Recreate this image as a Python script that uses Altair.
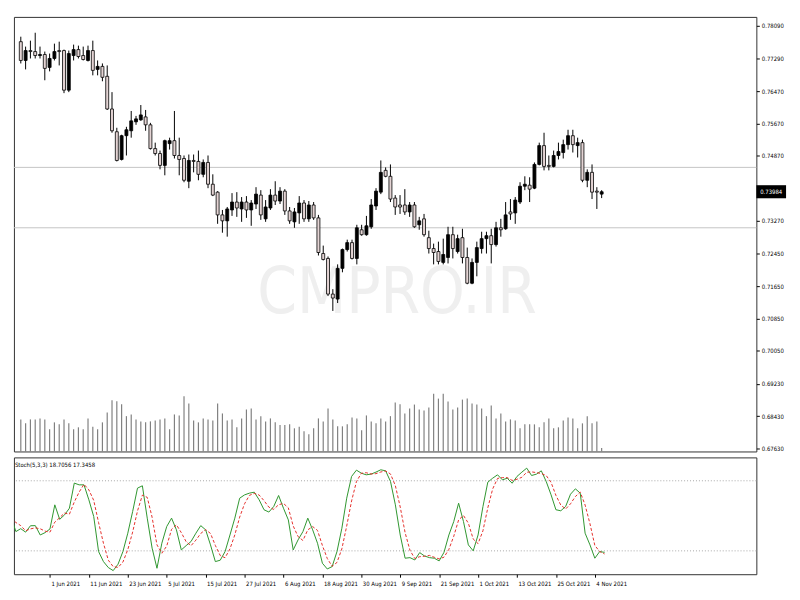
import json
import altair as alt
import pandas as pd

# ---------------- data ----------------
# daily candles, bar index 1..122 (weekdays, 21 May 2021 .. 8 Nov 2021)
opens = [0.77698, 0.77233, 0.77478, 0.77453, 0.77355, 0.77380, 0.77061, 0.77282, 0.77478, 0.77478,
         0.76498, 0.77355, 0.77502, 0.77355, 0.77233, 0.77478, 0.77012, 0.77086, 0.76841, 0.76032,
         0.75469, 0.74783, 0.75371, 0.75493, 0.75714, 0.75763, 0.75836, 0.75640, 0.75052, 0.74930,
         0.74636, 0.75175, 0.75248, 0.74881, 0.74807, 0.74244, 0.74758, 0.74734, 0.74415, 0.74709,
         0.74170, 0.73974, 0.73411, 0.73264, 0.73533, 0.73729, 0.73558, 0.73729, 0.73533, 0.73680,
         0.73901, 0.73313, 0.73582, 0.73901, 0.73754, 0.73999, 0.73509, 0.73239, 0.73460, 0.73705,
         0.73313, 0.73656, 0.73337, 0.72455, 0.72333, 0.71451, 0.71328, 0.72088, 0.72553, 0.72725,
         0.72333, 0.73043, 0.72921, 0.73117, 0.73631, 0.73974, 0.74513, 0.74366, 0.73827, 0.73656,
         0.73656, 0.73484, 0.73656, 0.73166, 0.73313, 0.72847, 0.72578, 0.72504, 0.72235, 0.72357,
         0.72921, 0.72504, 0.72847, 0.72357, 0.71720, 0.72235, 0.72578, 0.72823, 0.72896, 0.72676,
         0.73092, 0.73068, 0.73484, 0.73460, 0.73729, 0.74121, 0.74146, 0.74072, 0.74660, 0.75126,
         0.74636, 0.74611, 0.74881, 0.74954, 0.75150, 0.75371, 0.75126, 0.75199, 0.74268, 0.74464,
         0.73999, 0.73925]
highs = [0.77821, 0.77576, 0.77723, 0.77919, 0.77576, 0.77453, 0.77404, 0.77649, 0.77698, 0.77502,
         0.77478, 0.77625, 0.77600, 0.77576, 0.77600, 0.77723, 0.77233, 0.77159, 0.77110, 0.76449,
         0.75567, 0.75395, 0.75591, 0.75983, 0.75861, 0.76130, 0.76008, 0.75689, 0.75199, 0.75003,
         0.75273, 0.75322, 0.75983, 0.75322, 0.74881, 0.74905, 0.74905, 0.75003, 0.74783, 0.74881,
         0.74415, 0.73999, 0.73533, 0.73607, 0.73950, 0.73974, 0.73852, 0.73876, 0.73778, 0.74097,
         0.74023, 0.73778, 0.74048, 0.74244, 0.74097, 0.74048, 0.73607, 0.73582, 0.73876, 0.73778,
         0.73754, 0.73729, 0.73411, 0.72651, 0.72382, 0.71573, 0.72186, 0.72578, 0.72798, 0.72798,
         0.73166, 0.73166, 0.73386, 0.73803, 0.74072, 0.74758, 0.74587, 0.74660, 0.73901, 0.73901,
         0.74048, 0.73729, 0.73729, 0.73362, 0.73435, 0.73019, 0.72700, 0.72749, 0.72823, 0.73117,
         0.73117, 0.72921, 0.73068, 0.72602, 0.72333, 0.72749, 0.72994, 0.72994, 0.73068, 0.73239,
         0.73313, 0.73729, 0.73803, 0.73852, 0.74219, 0.74366, 0.74342, 0.74709, 0.75199, 0.75444,
         0.74881, 0.75003, 0.75199, 0.75273, 0.75518, 0.75518, 0.75322, 0.75273, 0.74538, 0.74660,
         0.74097, 0.74023]
lows = [0.77159, 0.77012, 0.77282, 0.77282, 0.77282, 0.76743, 0.76963, 0.77233, 0.77110, 0.76424,
        0.76449, 0.77233, 0.77282, 0.77233, 0.77208, 0.76865, 0.76865, 0.76718, 0.76008, 0.75444,
        0.74734, 0.74758, 0.74881, 0.75322, 0.75640, 0.75738, 0.75493, 0.75028, 0.74881, 0.74538,
        0.74391, 0.75028, 0.74807, 0.74391, 0.74219, 0.74072, 0.74464, 0.74268, 0.74342, 0.74072,
        0.73876, 0.73190, 0.72970, 0.72872, 0.73386, 0.73362, 0.73239, 0.73337, 0.73141, 0.73558,
        0.73288, 0.73239, 0.73533, 0.73656, 0.73680, 0.73411, 0.73190, 0.73092, 0.73190, 0.73239,
        0.73239, 0.73288, 0.72406, 0.72284, 0.71402, 0.71034, 0.71230, 0.71990, 0.72504, 0.72308,
        0.72186, 0.72896, 0.72896, 0.73068, 0.73533, 0.73925, 0.74342, 0.73729, 0.73411, 0.73435,
        0.73411, 0.73362, 0.73092, 0.73043, 0.72872, 0.72455, 0.72186, 0.72186, 0.72186, 0.72210,
        0.72333, 0.72455, 0.72210, 0.71695, 0.71695, 0.71891, 0.72455, 0.72455, 0.72210, 0.72627,
        0.72872, 0.73043, 0.73288, 0.73190, 0.73680, 0.74023, 0.73729, 0.74048, 0.74636, 0.74513,
        0.74513, 0.74587, 0.74783, 0.74807, 0.75028, 0.74955, 0.74832, 0.74219, 0.74097, 0.73803,
        0.73558, 0.73827]
closes = [0.77233, 0.77478, 0.77453, 0.77355, 0.77380, 0.77037, 0.77282, 0.77453, 0.77453, 0.76498,
          0.77404, 0.77502, 0.77331, 0.77257, 0.77478, 0.76988, 0.77086, 0.76816, 0.76032, 0.75493,
          0.74758, 0.75371, 0.75518, 0.75738, 0.75787, 0.75885, 0.75640, 0.75052, 0.74930, 0.74636,
          0.75248, 0.75248, 0.74881, 0.74783, 0.74268, 0.74758, 0.74734, 0.74415, 0.74709, 0.74170,
          0.73901, 0.73411, 0.73264, 0.73558, 0.73729, 0.73582, 0.73729, 0.73533, 0.73705, 0.73925,
          0.73411, 0.73607, 0.73901, 0.73754, 0.73999, 0.73509, 0.73264, 0.73484, 0.73705, 0.73313,
          0.73656, 0.73337, 0.72480, 0.72308, 0.71451, 0.71353, 0.72088, 0.72553, 0.72725, 0.72333,
          0.73092, 0.72921, 0.73141, 0.73656, 0.73999, 0.74464, 0.74366, 0.73803, 0.73607, 0.73607,
          0.73484, 0.73656, 0.73117, 0.73264, 0.72921, 0.72578, 0.72480, 0.72259, 0.72431, 0.72921,
          0.72578, 0.72823, 0.72357, 0.71720, 0.72235, 0.72602, 0.72823, 0.72896, 0.72676, 0.73092,
          0.73043, 0.73411, 0.73435, 0.73778, 0.74121, 0.74170, 0.74048, 0.74660, 0.75126, 0.74611,
          0.74611, 0.74881, 0.74979, 0.75150, 0.75371, 0.75150, 0.75199, 0.74268, 0.74464, 0.73974,
          0.73974, 0.73984]
tick_volumes = [32400, 28400, 32400, 32400, 33400, 32400, 22400, 29400, 27400, 32400,
                28400, 22400, 24400, 22400, 33400, 25000, 22400, 29400, 39400, 51700,
                50700, 47700, 35700, 37400, 32400, 30400, 29400, 30400, 31400, 32400,
                33400, 22400, 37400, 36400, 55700, 48400, 31400, 29400, 33400, 32400,
                31400, 48400, 38400, 31400, 32400, 24400, 33400, 42400, 43400, 32400,
                35700, 30400, 33400, 29400, 26700, 26700, 27400, 23400, 25000, 20400,
                17400, 23400, 33400, 30400, 43400, 32400, 25400, 25400, 27400, 34400,
                33400, 21400, 36400, 30400, 28400, 33400, 30400, 35700, 49400, 47700,
                38400, 43400, 47400, 42400, 41400, 44400, 58400, 53400, 58400, 50400,
                42400, 44400, 52400, 53400, 48400, 47400, 43400, 35700, 46400, 33400,
                38400, 30400, 32400, 31400, 23400, 27400, 27400, 27400, 24400, 29400,
                33400, 23400, 24400, 31400, 34400, 33400, 23400, 28400, 35700, 28400,
                30400, 3400]

# Stochastic(5,3,3), bar index 0..122
stoch_k = [49.4, 36.5, 39.0, 36.0, 41.5, 41.6, 33.6, 35.6, 38.7, 59.4,
           47.0, 50.8, 56.5, 78.0, 76.5, 76.5, 63.7, 49.4, 19.4, 10.8,
           5.7, 3.1, 8.6, 19.4, 35.1, 53.7, 73.7, 75.7, 48.0, 22.3,
           5.1, 26.5, 40.8, 48.0, 38.0, 20.8, 24.5, 28.0, 35.1, 41.6,
           38.0, 25.1, 10.8, 12.0, 19.4, 33.6, 48.0, 65.1, 67.9, 69.4,
           70.2, 63.7, 55.2, 53.2, 58.0, 67.4, 56.5, 46.5, 20.8, 29.4,
           36.5, 48.0, 38.0, 26.5, 9.4, 4.5, 6.5, 19.4, 39.3, 65.1,
           83.7, 89.1, 86.5, 85.1, 85.7, 87.4, 89.4, 88.5, 79.4, 59.4,
           33.6, 13.7, 14.2, 12.2, 18.5, 15.6, 14.2, 13.7, 11.4, 18.8,
           33.6, 45.1, 60.8, 45.1, 25.1, 20.0, 33.6, 57.9, 78.8, 82.2,
           85.1, 80.8, 82.2, 77.9, 83.7, 87.4, 90.8, 84.5, 85.7, 88.5,
           79.4, 68.0, 55.2, 54.3, 58.0, 68.5, 73.1, 69.4, 35.1, 25.1,
           13.7, 19.4, 18.7056]
stoch_d = [48.0, 44.3, 41.6, 37.2, 38.8, 39.7, 38.9, 36.9, 36.0, 44.6,
           48.4, 52.4, 51.4, 61.8, 70.3, 77.0, 72.2, 63.2, 44.2, 26.5,
           12.0, 6.5, 5.8, 10.4, 21.0, 36.1, 54.2, 67.7, 65.8, 48.7,
           25.1, 18.0, 24.1, 38.4, 42.3, 35.6, 27.8, 24.4, 29.2, 34.9,
           38.2, 34.9, 24.6, 16.0, 14.1, 21.7, 33.7, 48.9, 60.3, 67.5,
           69.2, 67.8, 63.0, 57.4, 55.5, 59.5, 60.6, 56.8, 41.3, 32.2,
           28.9, 38.0, 40.8, 37.5, 24.6, 13.5, 6.8, 10.1, 21.7, 41.3,
           62.7, 79.3, 86.4, 86.9, 85.8, 86.1, 87.5, 88.4, 85.8, 75.8,
           57.5, 35.6, 20.5, 13.4, 15.0, 15.4, 16.1, 14.5, 13.1, 14.6,
           21.3, 32.5, 46.5, 50.3, 43.7, 30.1, 26.2, 37.2, 56.8, 73.0,
           82.0, 82.7, 82.7, 80.3, 81.3, 83.0, 87.3, 87.6, 87.0, 86.2,
           84.5, 78.6, 67.5, 59.2, 55.8, 60.3, 66.5, 70.3, 59.2, 43.2,
           24.6, 19.4, 17.3458]

price_ticks = [0.78090, 0.77290, 0.76470, 0.75670, 0.74870, 0.73270, 0.72450,
               0.71650, 0.70850, 0.70050, 0.69230, 0.68430, 0.67630]
hline_prices = [0.74587, 0.73092]
last_price = 0.73984
date_tick_idx = [8, 16, 24, 32, 40, 48, 56, 64, 72, 80, 88, 96, 104, 112, 120]
date_tick_labels = ["1 Jun 2021", "11 Jun 2021", "23 Jun 2021", "5 Jul 2021", "15 Jul 2021",
                    "27 Jul 2021", "6 Aug 2021", "18 Aug 2021", "30 Aug 2021", "9 Sep 2021",
                    "21 Sep 2021", "1 Oct 2021", "13 Oct 2021", "25 Oct 2021", "4 Nov 2021"]
stoch_levels = [20, 80]
stoch_ticks = [0, 20, 80, 100]
watermark = "CMPRO.IR"

# ---------------- layout / styles ----------------
W = 750
H_MAIN = 439
H_STOCH = 118
X_DOMAIN = [0.6, 153.2]
PRICE_DOMAIN = [0.67556, 0.78311]
VOL_DOMAIN = [0, 439000]
FONT = "DejaVu Sans Condensed, DejaVu Sans, sans-serif"
FS = 6

candles = pd.DataFrame({
    "i": list(range(1, len(opens) + 1)),
    "open": opens, "high": highs, "low": lows, "close": closes,
    "volume": tick_volumes,
})
stoch = pd.DataFrame({"i": list(range(len(stoch_k))), "k": stoch_k, "d": stoch_d})

x_scale = alt.Scale(domain=X_DOMAIN, nice=False, zero=False)
price_scale = alt.Scale(domain=PRICE_DOMAIN, nice=False, zero=False)
x_main = alt.X("i:Q", scale=x_scale, axis=None)

base = alt.Chart(candles)

wm = alt.Chart(pd.DataFrame({"t": [watermark]})).mark_text(
    font="Liberation Sans Narrow, DejaVu Sans Condensed, sans-serif", fontSize=64,
    color="#efefef", align="center", baseline="middle"
).encode(text="t:N", x=alt.value(387), y=alt.value(280))

hl = alt.Chart(pd.DataFrame({"p": hline_prices})).mark_rule(
    color="#c4c4c4", strokeWidth=1
).encode(y=alt.Y("p:Q", scale=price_scale, axis=None))

wicks = base.mark_rule(color="black", strokeWidth=1).encode(
    x=x_main,
    y=alt.Y("low:Q", scale=price_scale,
            axis=alt.Axis(orient="right", values=price_ticks, format=".5f", title=None)),
    y2="high:Q",
)

bodies = base.mark_bar(size=3, stroke="black", strokeWidth=0.8).encode(
    x=x_main,
    y=alt.Y("open:Q", scale=price_scale, axis=None),
    y2="close:Q",
    fill=alt.condition(alt.datum.close >= alt.datum.open, alt.value("black"), alt.value("#e4d4d4")),
)

cur = alt.Chart(pd.DataFrame({"p": [last_price], "t": [f"{last_price:.5f}"]}))
cur_box = cur.mark_point(shape="M-1,-0.44H1V0.44H-1Z", size=900, filled=True,
                         color="black", opacity=1).encode(
    x=alt.value(W + 15), y=alt.Y("p:Q", scale=price_scale, axis=None))
cur_txt = cur.mark_text(color="white", font=FONT, fontSize=FS, align="center",
                        baseline="middle").encode(
    x=alt.value(W + 15), y=alt.Y("p:Q", scale=price_scale, axis=None), text="t:N")

vol = base.mark_rule(color="#808080", strokeWidth=1.2).encode(
    x=x_main,
    y=alt.Y("volume:Q", scale=alt.Scale(domain=VOL_DOMAIN, nice=False, zero=False), axis=None),
    y2=alt.value(H_MAIN),
)

price_layer = alt.layer(wm, hl, vol, wicks, bodies, cur_box, cur_txt).resolve_scale(y="independent")
main = price_layer.properties(width=W, height=H_MAIN)

# ---------------- stochastic panel ----------------
label_expr = "{}[indexof({}, datum.value)]".format(json.dumps(date_tick_labels),
                                                    json.dumps(date_tick_idx))
x_stoch = alt.X("i:Q", scale=x_scale, axis=alt.Axis(
    values=date_tick_idx, labelExpr=label_expr, title=None, labelAlign="left",
    labelBaseline="top", labelPadding=3, labelOffset=1, labelOverlap=False,
    labelFlush=False, labelBound=False))
stoch_scale = alt.Scale(domain=[0, 100], nice=False, zero=False)

sbase = alt.Chart(stoch)
levels = alt.Chart(pd.DataFrame({"lv": stoch_levels})).mark_rule(
    color="#a8a8a8", strokeDash=[1, 2], strokeWidth=1
).encode(y=alt.Y("lv:Q", scale=stoch_scale, axis=None))
k_line = sbase.mark_line(color="#2f962f", strokeWidth=1, clip=True).encode(
    x=x_stoch,
    y=alt.Y("k:Q", scale=stoch_scale,
            axis=alt.Axis(orient="right", values=stoch_ticks, title=None, labelFlush=True)))
d_line = sbase.mark_line(color="#e5302c", strokeWidth=1, strokeDash=[3, 2], clip=True).encode(
    x=x_stoch, y=alt.Y("d:Q", scale=stoch_scale, axis=None))
stoch_title = "Stoch(5,3,3) {:.4f} {:.4f}".format(stoch_k[-1], stoch_d[-1])
s_label = alt.Chart(pd.DataFrame({"t": [stoch_title]})).mark_text(
    font=FONT, fontSize=FS, color="black", align="left", baseline="middle"
).encode(text="t:N", x=alt.value(1), y=alt.value(8))

stoch_panel = alt.layer(levels, k_line, d_line, s_label).properties(width=W, height=H_STOCH)

chart = alt.vconcat(main, stoch_panel, spacing=3, padding=5).configure_view(
    stroke="#333333", strokeWidth=1
).configure_axis(
    labelFont=FONT, labelFontSize=FS, labelColor="black", tickColor="black",
    tickSize=3, labelPadding=2, domain=False, grid=False
)

chart.save("out.html", embed_options={"renderer": "svg", "actions": False})
